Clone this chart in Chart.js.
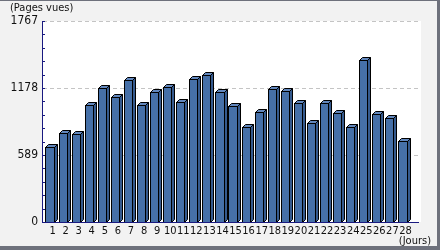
<!DOCTYPE html>
<html>
<head>
<meta charset="utf-8">
<script src="https://cdn.jsdelivr.net/npm/chart.js@4"></script>
<style>
  html, body { margin: 0; padding: 0; background: #f2f2f2; }
  #wrap { position: relative; width: 440px; height: 250px; }
</style>
</head>
<body>
<div id="wrap"><canvas id="chart" width="440" height="250"></canvas></div>
<script>
// Jours du mois
const jours = ['1','2','3','4','5','6','7','8','9','10','11','12','13','14',
               '15','16','17','18','19','20','21','22','23','24','25','26','27','28'];
// Pages vues par jour
const pagesVues = [660, 780, 771, 1031, 1174, 1096, 1247, 1028, 1145, 1183, 1057, 1256, 1291, 1145,
                   1019, 832, 964, 1166, 1151, 1043, 873, 1043, 955, 838, 1423, 949, 912, 715];
// Graduations de l'axe vertical
const yMax = 1767;
const yLabels = [0, 589, 1178, 1767];

const DEPTH = 3;
const NAVY = '#1a1a80';
const NARROW = '"Liberation Sans Narrow", "DejaVu Sans Condensed", sans-serif';

// Cadre, fond blanc, grille pointillée et petites graduations
const decor = {
  id: 'decor',
  beforeDraw(chart) {
    const { ctx, chartArea: a, scales: { y } } = chart;
    ctx.save();
    ctx.fillStyle = '#f2f2f2';
    ctx.fillRect(0, 0, chart.width, chart.height);
    // cadre gris
    ctx.fillStyle = '#6e717c';
    ctx.fillRect(0, 0, chart.width, 1);
    ctx.fillRect(chart.width - 3, 0, 3, chart.height);
    ctx.fillRect(0, chart.height - 4, chart.width, 4);
    // zone blanche
    ctx.fillStyle = '#ffffff';
    ctx.fillRect(a.left, a.top, a.right - a.left + 12, a.bottom - a.top);
    // lignes de grille
    ctx.strokeStyle = '#c4c4c4';
    ctx.lineWidth = 1;
    ctx.setLineDash([4, 3]);
    yLabels.forEach(v => {
      if (v === 0) return;
      const py = Math.round(y.getPixelForValue(v)) + 0.5;
      ctx.beginPath();
      ctx.moveTo(a.left, py);
      ctx.lineTo(a.right + 10, py);
      ctx.stroke();
    });
    ctx.restore();
  },
  afterDraw(chart) {
    const { ctx, chartArea: a, scales: { y } } = chart;
    ctx.save();
    ctx.strokeStyle = NAVY;
    ctx.lineWidth = 1;
    // axe vertical
    ctx.beginPath();
    ctx.moveTo(a.left - 0.5, a.top);
    ctx.lineTo(a.left - 0.5, a.bottom + 1);
    ctx.stroke();
    // petites graduations
    y.ticks.forEach(t => {
      const py = Math.round(y.getPixelForValue(t.value)) + 0.5;
      ctx.beginPath();
      ctx.moveTo(a.left - 1, py);
      ctx.lineTo(a.left + 2, py);
      ctx.stroke();
    });
    // axe horizontal
    ctx.beginPath();
    ctx.moveTo(a.left - 1, a.bottom + 0.5);
    ctx.lineTo(a.right + 10, a.bottom + 0.5);
    ctx.stroke();
    // titres des axes
    ctx.fillStyle = '#111';
    ctx.font = '11px ' + NARROW;
    ctx.textBaseline = 'middle';
    ctx.textAlign = 'left';
    ctx.fillText('(Pages vues)', 10, 8);
    ctx.textAlign = 'right';
    ctx.fillText('(Jours)', 431, 241);
    ctx.restore();
  }
};

// Faces supérieure et latérale des barres (effet 3D)
const relief = {
  id: 'relief',
  afterDatasetsDraw(chart) {
    const { ctx } = chart;
    const meta = chart.getDatasetMeta(0);
    ctx.save();
    ctx.strokeStyle = '#000';
    ctx.lineWidth = 1;
    ctx.lineJoin = 'miter';
    meta.data.forEach(bar => {
      const p = bar.getProps(['x', 'y', 'base', 'width'], true);
      const l = Math.round(p.x - p.width / 2) + 0.5;
      const r = Math.round(p.x + p.width / 2) + 0.5;
      const t = Math.round(p.y) + 0.5;
      const b = Math.round(p.base) + 0.5;
      const d = DEPTH;
      // face latérale
      ctx.fillStyle = '#355a8e';
      ctx.beginPath();
      ctx.moveTo(r, t);
      ctx.lineTo(r + d, t - d);
      ctx.lineTo(r + d, b - d);
      ctx.lineTo(r, b);
      ctx.closePath();
      ctx.fill();
      ctx.stroke();
      // face supérieure
      ctx.fillStyle = '#6287bd';
      ctx.beginPath();
      ctx.moveTo(l, t);
      ctx.lineTo(l + d, t - d);
      ctx.lineTo(r + d, t - d);
      ctx.lineTo(r, t);
      ctx.closePath();
      ctx.fill();
      ctx.stroke();
      // face avant
      ctx.fillStyle = '#4670a8';
      ctx.fillRect(l, t, r - l, b - t);
      ctx.strokeRect(l, t, r - l, b - t);
    });
    ctx.restore();
  }
};

new Chart(document.getElementById('chart'), {
  type: 'bar',
  data: {
    labels: jours,
    datasets: [{
      data: pagesVues,
      backgroundColor: 'rgba(0,0,0,0)',
      borderWidth: 0,
      categoryPercentage: 1,
      barPercentage: 0.62
    }]
  },
  options: {
    responsive: false,
    animation: false,
    events: [],
    layout: { padding: { top: 21, right: 31, left: 0, bottom: 0 } },
    plugins: { legend: { display: false }, tooltip: { enabled: false } },
    scales: {
      y: {
        min: 0,
        max: yMax,
        afterBuildTicks(scale) {
          const step = yMax / 15;
          scale.ticks = [];
          for (let i = 0; i <= 15; i++) scale.ticks.push({ value: i * step });
        },
        afterFit(scale) { scale.width = 43; },
        ticks: {
          color: '#111',
          font: { family: NARROW, size: 12 },
          padding: 5,
          autoSkip: false,
          callback(v, i) { return i % 5 === 0 ? String(yLabels[i / 5]) : ''; }
        },
        grid: { display: false, drawTicks: false },
        border: { display: false }
      },
      x: {
        afterFit(scale) { scale.height = 28; },
        ticks: {
          color: '#111',
          font: { family: NARROW, size: 11 },
          padding: 3,
          labelOffset: 3,
          maxRotation: 0,
          autoSkip: false
        },
        grid: { display: false, drawTicks: false },
        border: { display: false }
      }
    }
  },
  plugins: [decor, relief]
});
</script>
</body>
</html>
